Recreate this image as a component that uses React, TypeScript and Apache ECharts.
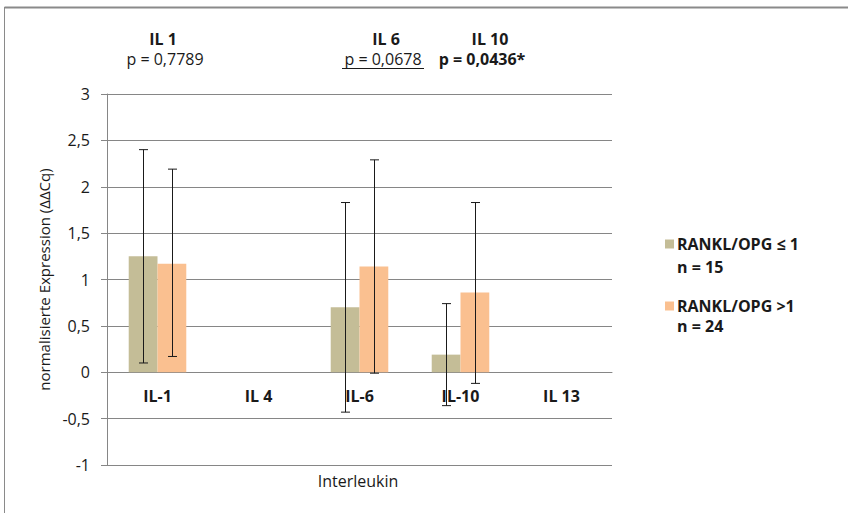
import React, { useEffect, useRef } from "react";
import * as echarts from "echarts";

const categories = ["IL-1", "IL 4", "IL-6", "IL-10", "IL 13"];
const seriesNames = ["RANKL/OPG ≤ 1", "RANKL/OPG >1"];
const seriesN = ["n = 15", "n = 24"];
const lowValues = [1.25, null, 0.7, 0.19, null];
const highValues = [1.17, null, 1.14, 0.86, null];
const lowErrLow = [0.1, null, -0.43, -0.36, null];
const lowErrHigh = [2.4, null, 1.83, 0.74, null];
const highErrLow = [0.17, null, -0.01, -0.12, null];
const highErrHigh = [2.19, null, 2.29, 1.83, null];
const annotationLabels = ["IL 1", "IL 6", "IL 10"];
const annotationP = ["p = 0,7789", "p = 0,0678", "p = 0,0436*"];

const FONT = "'Open Sans', 'Noto Sans', sans-serif";
const colors = ["#C4BD97", "#FAC090"];
const BAR_GROUP = 0.57;
const annLabelX = [163, 386, 490];
const annPX = [165, 383, 482];
const annPBold = [false, false, true];
const annPUnderline = [false, true, false];

export default function App() {
  const ref = useRef<HTMLDivElement>(null);
  useEffect(() => {
    if (!ref.current) return;
    const chart = echarts.init(ref.current, null, { renderer: "svg" });

    const errData = (lo: (number | null)[], hi: (number | null)[]) =>
      categories
        .map((c, i) => (lo[i] == null ? null : [i, lo[i], hi[i]]))
        .filter((d) => d !== null);

    const makeErr = (idx: number, lo: (number | null)[], hi: (number | null)[]) => ({
      type: "custom",
      name: "err" + idx,
      silent: true,
      z: 10,
      data: errData(lo, hi),
      encode: { x: 0, y: [1, 2] },
      renderItem: (params: any, api: any) => {
        const band = api.size([1, 0])[0];
        const off = ((band * BAR_GROUP) / 4) * (idx === 0 ? -1 : 1);
        const pLo = api.coord([api.value(0), api.value(1)]);
        const pHi = api.coord([api.value(0), api.value(2)]);
        const x = Math.round(pLo[0] + off) + 0.5;
        const cap = 4.5;
        const style = { stroke: "#1a1a1a", lineWidth: 1 };
        return {
          type: "group",
          children: [
            { type: "line", shape: { x1: x, y1: pLo[1], x2: x, y2: pHi[1] }, style },
            { type: "line", shape: { x1: x - cap, y1: pLo[1], x2: x + cap, y2: pLo[1] }, style },
            { type: "line", shape: { x1: x - cap, y1: pHi[1], x2: x + cap, y2: pHi[1] }, style },
          ],
        };
      },
    });

    const graphics: any[] = [
      { type: "line", shape: { x1: 4.5, y1: 7.5, x2: 848, y2: 7.5 }, style: { stroke: "#8a8a8a", lineWidth: 2 } },
      { type: "line", shape: { x1: 4.5, y1: 7, x2: 4.5, y2: 513 }, style: { stroke: "#8a8a8a", lineWidth: 1 } },
      {
        type: "text",
        x: 358,
        y: 481,
        style: { text: "Interleukin", font: `16px ${FONT}`, fill: "#1a1a1a", align: "center", verticalAlign: "middle" },
      },
    ];
    annotationLabels.forEach((label, i) => {
      graphics.push({
        type: "text",
        x: annLabelX[i],
        y: 39,
        style: { text: label, font: `bold 16px ${FONT}`, fill: "#1a1a1a", align: "center", verticalAlign: "middle" },
      });
      graphics.push({
        type: "text",
        x: annPX[i],
        y: 59,
        style: {
          text: annotationP[i],
          font: `${annPBold[i] ? "bold " : ""}16px ${FONT}`,
          fill: "#1a1a1a",
          align: "center",
          verticalAlign: "middle",
        },
      });
      if (annPUnderline[i]) {
        graphics.push({
          type: "line",
          shape: { x1: annPX[i] - 41, y1: 68.5, x2: annPX[i] + 41, y2: 68.5 },
          style: { stroke: "#1a1a1a", lineWidth: 1 },
        });
      }
    });
    const legendY = [241, 303];
    const nY = [267, 326];
    seriesN.forEach((n, i) => {
      graphics.push({
        type: "text",
        x: 677,
        y: nY[i],
        style: { text: n, font: `bold 16px ${FONT}`, fill: "#1a1a1a", align: "left", verticalAlign: "middle" },
      });
    });

    chart.setOption({
      animation: false,
      textStyle: { fontFamily: FONT },
      grid: { left: 107, right: 236, top: 94, bottom: 48 },
      legend: [0, 1].map((i) => ({
        data: [seriesNames[i]],
        left: 660,
        top: legendY[i] - 10,
        orient: "vertical",
        icon: "rect",
        itemWidth: 9,
        itemHeight: 9,
        itemGap: 4,
        selectedMode: false,
        textStyle: { fontFamily: FONT, fontSize: 16, fontWeight: "bold", color: "#1a1a1a", padding: [0, 0, 0, -2] },
      })),
      xAxis: {
        type: "category",
        data: categories,
        offset: -92.75,
        axisLine: { show: true, onZero: false, lineStyle: { color: "#868686" } },
        axisTick: { show: false },
        axisLabel: { fontFamily: FONT, fontSize: 16, fontWeight: "bold", color: "#1a1a1a", margin: 16 },
        splitLine: { show: false },
      },
      yAxis: {
        type: "value",
        min: -1,
        max: 3,
        interval: 0.5,
        name: "normalisierte Expression (ΔΔCq)",
        nameLocation: "middle",
        nameGap: 56,
        nameTextStyle: { fontFamily: FONT, fontSize: 15, color: "#1a1a1a" },
        axisLine: { show: true, lineStyle: { color: "#868686" } },
        axisTick: { show: true, length: 6, lineStyle: { color: "#868686" } },
        axisLabel: {
          fontFamily: FONT,
          fontSize: 16,
          color: "#1a1a1a",
          margin: 17,
          formatter: (v: number) => String(v).replace(".", ","),
        },
        splitLine: { show: true, lineStyle: { color: "#868686", width: 1 } },
      },
      series: [
        {
          type: "bar",
          name: seriesNames[0],
          data: lowValues,
          itemStyle: { color: colors[0] },
          barGap: "0%",
          barCategoryGap: "43%",
        },
        {
          type: "bar",
          name: seriesNames[1],
          data: highValues,
          itemStyle: { color: colors[1] },
          barGap: "0%",
          barCategoryGap: "43%",
        },
        makeErr(0, lowErrLow, lowErrHigh),
        makeErr(1, highErrLow, highErrHigh),
      ],
      graphic: graphics,
    });
    return () => chart.dispose();
  }, []);
  return <div ref={ref} style={{ position: "fixed", left: 0, top: 0, width: 848, height: 513, background: "#fff" }} />;
}
